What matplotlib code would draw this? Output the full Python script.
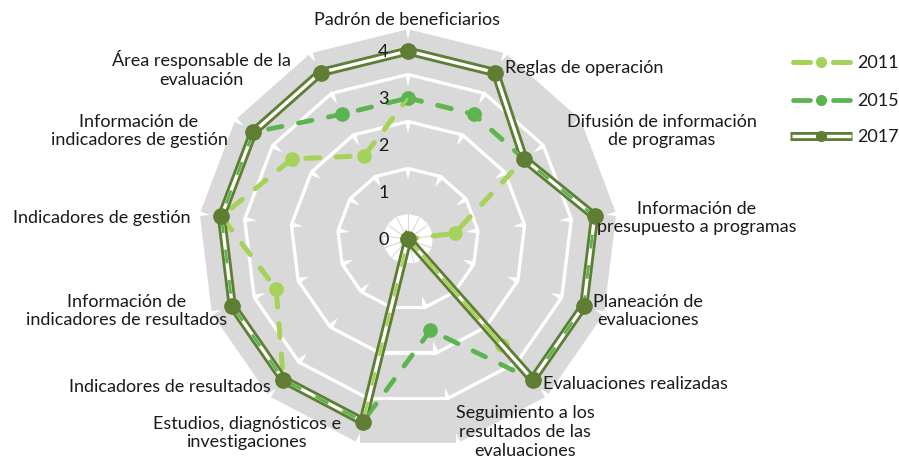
import numpy as np
import matplotlib
matplotlib.use("Agg")
import matplotlib.pyplot as plt
from matplotlib.patches import Polygon
from matplotlib.lines import Line2D

plt.rcParams['font.family'] = ['Lato', 'DejaVu Sans']
plt.rcParams['lines.scale_dashes'] = False

categories = ["Padrón de beneficiarios", "Reglas de operación",
              "Difusión de información\nde programas",
              "Información de\npresupuesto a programas",
              "Planeación de\nevaluaciones", "Evaluaciones realizadas",
              "Seguimiento a los\nresultados de las\nevaluaciones",
              "Estudios, diagnósticos e\ninvestigaciones",
              "Indicadores de resultados",
              "Información de\nindicadores de resultados",
              "Indicadores de gestión",
              "Información de\nindicadores de gestión",
              "Área responsable de la\nevaluación"]
years = ["2011", "2015", "2017"]
v2011 = [3, 3, 3, 1, 0, 3, 0, 4, 4, 3, 4, 3, 2]
v2015 = [3, 3, 3, 4, 4, 4, 2, 4, 4, 4, 4, 4, 3]
v2017 = [4, 4, 3, 4, 4, 4, 0, 4, 4, 4, 4, 4, 4]
rings = [1, 2, 3, 4]

c2011 = "#a6d25a"
c2015 = "#5bb450"
c2017 = "#5f7d33"
gray = "#d9d9d9"
txt = "#1a1a1a"

W, H = 899, 464
fig = plt.figure(figsize=(W / 100, H / 100), dpi=100)

cx, cy = 408, 240          # centre in pixels
ppu = 47.0                 # pixels per unit
R = 4.7
rp = R * ppu
ax = fig.add_axes([(cx - rp) / W, (H - cy - rp) / H, 2 * rp / W, 2 * rp / H],
                  projection='polar')
ax.set_theta_zero_location('N')
ax.set_theta_direction(-1)
ax.set_ylim(0, R)
ax.axis('off')

n = len(categories)
theta = np.arange(n) * 2 * np.pi / n

# background bands (separate butt-ended segments -> notches at spokes)
h = 0.45
e = 0.06
for c in rings:
    for i in range(n):
        j = (i + 1) % n
        A = c * np.array([np.sin(theta[i]), np.cos(theta[i])])
        B = c * np.array([np.sin(theta[j]), np.cos(theta[j])])
        d = (B - A) / np.linalg.norm(B - A)
        m = (A + B) / 2
        nn = m / np.linalg.norm(m)
        pts = [A - e * d + h * nn, B + e * d + h * nn,
               B + e * d - h * nn, A - e * d - h * nn]
        pol = [(np.arctan2(p[0], p[1]), np.hypot(p[0], p[1])) for p in pts]
        ax.add_patch(Polygon(pol, closed=True, fc=gray, ec='none', zorder=1))

for t in theta:
    ax.plot([t, t], [0, 0.6], color=gray, lw=0.8, zorder=0.5)

tc = np.append(theta, theta[0])
d11 = np.append(v2011, v2011[0])
d15 = np.append(v2015, v2015[0])
d17 = np.append(v2017, v2017[0])

dash = (10, 12)
ax.plot(tc, d11, color=c2011, lw=3.6, dashes=dash, dash_capstyle='round', zorder=3)
ax.plot(theta, v2011, ls='none', marker='o', ms=9.5, color=c2011, zorder=3)
ax.plot(tc, d15, color=c2015, lw=3.4, dashes=dash, dash_capstyle='round', zorder=4)
ax.plot(theta, v2015, ls='none', marker='o', ms=9.5, color=c2015, zorder=4)

ax.plot(tc, d17, color=c2017, lw=6.5, solid_joinstyle='miter', zorder=5)
ax.plot(tc, d17, color='white', lw=2.4, solid_joinstyle='miter', zorder=6)
ax.plot(tc, d11, color=c2011, lw=2.0, dashes=dash, zorder=7)
ax.plot(tc, d15, color=c2015, lw=2.0, dashes=dash, zorder=7)
ax.plot(theta, v2017, ls='none', marker='o', ms=11, color=c2017, zorder=8)

# radial tick labels
for r in range(0, 5):
    ax.annotate(str(r), (0, r), xytext=(-14, 0), textcoords='offset points',
                ha='right', va='center', fontsize=13, color=txt, zorder=9)

# category labels (pixel positions of each block centre)
label_pos = [(407, 20, 'center'), (505, 68, 'left'), (662, 131, 'center'),
             (697, 218, 'center'), (648, 311, 'center'), (543, 384, 'left'),
             (525, 432, 'center'), (247, 433, 'center'), (170, 387, 'center'),
             (127, 311, 'center'), (102, 218, 'center'), (139, 131, 'center'),
             (201, 69, 'center')]
for lab, (x, y, ha) in zip(categories, label_pos):
    fig.text(x / W, 1 - y / H, lab, ha=ha, va='center', ma='center',
             fontsize=13, color=txt, linespacing=1.2)


# legend, drawn by hand in pixel positions
def fx(x):
    return x / W


def fy(y):
    return 1 - y / H


leg_y = [63, 101, 137]
for yr, col, lw, y in zip(years[:2], [c2011, c2015], [3.6, 3.4], leg_y[:2]):
    for x0, x1 in [(792.5, 809.5), (832.5, 849.5)]:
        fig.add_artist(Line2D([fx(x0), fx(x1)], [fy(y), fy(y)], color=col, lw=lw,
                              solid_capstyle='round'))
    fig.add_artist(Line2D([fx(821)], [fy(y)], color=col, ls='none',
                          marker='o', ms=7))
y = leg_y[2]
fig.add_artist(Line2D([fx(790), fx(852)], [fy(y), fy(y)], color=c2017, lw=6.5,
                      solid_capstyle='butt'))
fig.add_artist(Line2D([fx(791.5), fx(850.5)], [fy(y), fy(y)], color='white',
                      lw=2.4, solid_capstyle='butt'))
fig.add_artist(Line2D([fx(821)], [fy(y)], color=c2017, ls='none', marker='o', ms=7))
for yr, y in zip(years, leg_y):
    fig.text(fx(857), fy(y), yr, ha='left', va='center', fontsize=13, color=txt)

fig.savefig("out.png", dpi=100)
